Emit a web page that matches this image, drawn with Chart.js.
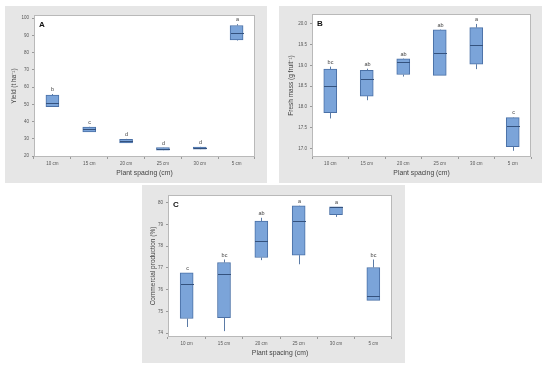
<!DOCTYPE html>
<html>
<head>
<meta charset="utf-8">
<script src="https://cdn.jsdelivr.net/npm/chart.js@4"></script>
<style>
  body { margin: 0; background: #ffffff; }
  canvas { position: absolute; background: #e6e6e6; }
</style>
</head>
<body>
<canvas id="chartA" width="262" height="177" style="left:5px;top:6px"></canvas>
<canvas id="chartB" width="263" height="177" style="left:279px;top:6px"></canvas>
<canvas id="chartC" width="263" height="178" style="left:142px;top:185px"></canvas>
<script>
// shared categories
const categories = ["10 cm", "15 cm", "20 cm", "25 cm", "30 cm", "5 cm"];

// A - yield
const yieldMin = [48.5, 34.0, 27.6, 23.3, 23.9, 87.0];
const yieldQ1 = [48.6, 34.1, 27.7, 23.4, 24.0, 87.4];
const yieldMedian = [50.9, 35.5, 28.8, 24.2, 24.6, 91.5];
const yieldQ3 = [55.4, 36.8, 29.8, 25.0, 25.3, 95.7];
const yieldMax = [56.0, 37.0, 30.0, 25.1, 25.4, 96.5];
const yieldLetters = ["b", "c", "d", "d", "d", "a"];
const yieldTicks = [20, 30, 40, 50, 60, 70, 80, 90, 100];

// B - fresh mass
const massMin = [17.72, 18.16, 18.73, 18.76, 18.91, 16.94];
const massQ1 = [17.86, 18.26, 18.78, 18.76, 19.03, 17.04];
const massMedian = [18.5, 18.67, 19.07, 19.29, 19.49, 17.53];
const massQ3 = [18.91, 18.88, 19.16, 19.86, 19.91, 17.74];
const massMax = [18.97, 18.92, 19.17, 19.87, 20.0, 17.75];
const massLetters = ["bc", "ab", "ab", "ab", "a", "c"];
const massTicks = [17.0, 17.5, 18.0, 18.5, 19.0, 19.5, 20.0];

// C - commercial production
const prodMin = [74.28, 74.09, 77.36, 77.17, 79.35, 75.51];
const prodQ1 = [74.67, 74.71, 77.48, 77.59, 79.45, 75.51];
const prodMedian = [76.28, 76.7, 78.25, 79.14, 79.8, 75.71];
const prodQ3 = [76.77, 77.25, 79.16, 79.86, 79.82, 77.02];
const prodMax = [76.77, 77.39, 79.31, 79.87, 79.82, 77.39];
const prodLetters = ["c", "bc", "ab", "a", "a", "bc"];
const prodTicks = [74, 75, 76, 77, 78, 79, 80];

Chart.defaults.font.family = "'Liberation Sans', Arial, sans-serif";
Chart.defaults.color = "#444";

// whiskers, medians, letters and the white plot area
const boxPlugin = {
  id: "boxes",
  beforeDraw(chart) {
    const { ctx, chartArea: a } = chart;
    ctx.save();
    ctx.fillStyle = "#ffffff";
    ctx.fillRect(a.left, a.top, a.right - a.left, a.bottom - a.top);
    ctx.restore();
  },
  afterDatasetsDraw(chart, args, opts) {
    const { ctx, chartArea: a } = chart;
    const y = chart.scales.y;
    const meta = chart.getDatasetMeta(0);
    ctx.save();
    meta.data.forEach((bar, i) => {
      const x = Math.round(bar.x) + 0.5;
      const half = bar.width / 2;
      const q1 = chart.data.datasets[0].data[i][0];
      const q3 = chart.data.datasets[0].data[i][1];
      ctx.strokeStyle = "#5b7ba6";
      ctx.lineWidth = 1;
      ctx.beginPath();
      ctx.moveTo(x, y.getPixelForValue(q3));
      ctx.lineTo(x, y.getPixelForValue(opts.max[i]));
      ctx.moveTo(x, y.getPixelForValue(q1));
      ctx.lineTo(x, y.getPixelForValue(opts.min[i]));
      ctx.stroke();
      ctx.strokeStyle = "#34527e";
      ctx.beginPath();
      const ym = Math.round(y.getPixelForValue(opts.median[i])) + 0.5;
      ctx.moveTo(x - half, ym);
      ctx.lineTo(x + half, ym);
      ctx.stroke();
      ctx.fillStyle = "#444";
      ctx.font = "5.5px 'Liberation Sans', Arial, sans-serif";
      ctx.textAlign = "center";
      ctx.textBaseline = "bottom";
      ctx.fillText(opts.letters[i], x, y.getPixelForValue(opts.max[i]) - 1.5);
    });
    ctx.fillStyle = "#111";
    ctx.font = "bold 8px 'Liberation Sans', Arial, sans-serif";
    ctx.textAlign = "left";
    ctx.textBaseline = "top";
    ctx.fillText(opts.tag, a.left + 5, a.top + 6);
    ctx.strokeStyle = "#b9b9b9";
    ctx.lineWidth = 1;
    ctx.strokeRect(a.left + 0.5, a.top + 0.5, a.right - a.left - 1, a.bottom - a.top - 1);
    ctx.restore();
  },
};

function makePanel(id, p) {
  return new Chart(document.getElementById(id), {
    type: "bar",
    data: {
      labels: categories,
      datasets: [
        {
          data: p.q1.map((v, i) => [v, p.q3[i]]),
          backgroundColor: "#7ba4d9",
          borderColor: "#4a70a6",
          borderWidth: 1,
          borderSkipped: false,
          barThickness: 13,
        },
      ],
    },
    options: {
      responsive: false,
      animation: false,
      layout: { padding: { top: p.top, right: p.right, left: 0, bottom: 0 } },
      plugins: {
        legend: { display: false },
        tooltip: { enabled: false },
        boxes: { min: p.min, median: p.median, max: p.max, letters: p.letters, tag: p.tag },
      },
      scales: {
        x: {
          afterFit: (s) => { s.height = 26; },
          grid: { display: true, drawOnChartArea: false, tickLength: 2, color: "#9a9a9a" },
          border: { display: false },
          ticks: { font: { size: 4.5 }, padding: 2, color: "#555" },
          title: { display: true, text: "Plant spacing (cm)", font: { size: 6.8 }, color: "#444", padding: { top: 0, bottom: 6 } },
        },
        y: {
          min: p.yMin,
          max: p.yMax,
          afterFit: (s) => { s.width = p.left; },
          afterBuildTicks: (s) => { s.ticks = p.ticks.map((v) => ({ value: v })); },
          grid: { display: true, drawOnChartArea: false, tickLength: 2, color: "#9a9a9a" },
          border: { display: false },
          ticks: {
            font: { size: 4.5 },
            padding: 3,
            color: "#555",
            callback: (v) => (p.decimals ? Number(v).toFixed(p.decimals) : v),
          },
          title: { display: true, text: p.yTitle, font: { size: 6.5 }, color: "#444", padding: { top: p.titlePad, bottom: 0 } },
        },
      },
    },
    plugins: [boxPlugin],
  });
}

makePanel("chartA", {
  q1: yieldQ1, q3: yieldQ3, min: yieldMin, median: yieldMedian, max: yieldMax,
  letters: yieldLetters, ticks: yieldTicks, tag: "A",
  yMin: 19.5, yMax: 101.8, yTitle: "Yield (t ha⁻¹)",
  left: 29, top: 9, right: 12, decimals: 0, titlePad: 5,
});

makePanel("chartB", {
  q1: massQ1, q3: massQ3, min: massMin, median: massMedian, max: massMax,
  letters: massLetters, ticks: massTicks, tag: "B",
  yMin: 16.79, yMax: 20.24, yTitle: "Fresh mass (g fruit⁻¹)",
  left: 33, top: 8, right: 11, decimals: 1, titlePad: 8,
});

makePanel("chartC", {
  q1: prodQ1, q3: prodQ3, min: prodMin, median: prodMedian, max: prodMax,
  letters: prodLetters, ticks: prodTicks, tag: "C",
  yMin: 73.82, yMax: 80.36, yTitle: "Commercial production (%)",
  left: 26, top: 10, right: 13, decimals: 0, titlePad: 7,
});
</script>
</body>
</html>
